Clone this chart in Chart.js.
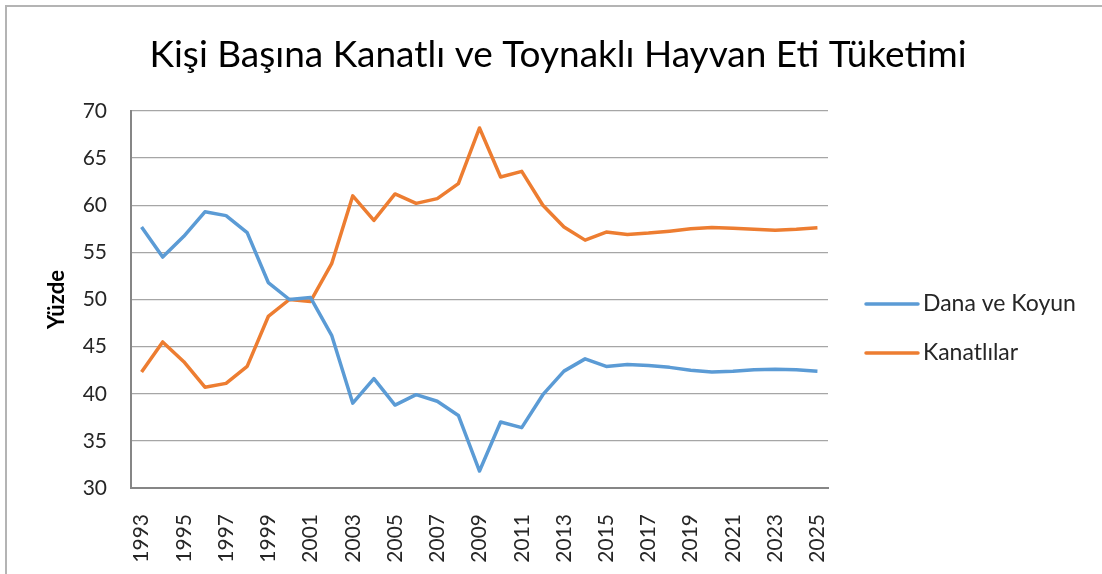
<!DOCTYPE html>
<html>
<head>
<meta charset="utf-8">
<script src="https://cdn.jsdelivr.net/npm/chart.js@4.4.1/dist/chart.umd.min.js"></script>
<style>
  html, body { margin:0; padding:0; background:#fff; }
  #wrap { position:relative; width:1102px; height:574px; overflow:hidden; }
  #frameTop { position:absolute; left:5px; top:5px; width:1100px; height:0; border-top:2px solid #b4b4b4; }
  #frameLeft { position:absolute; left:5px; top:5px; width:0; height:570px; border-left:2px solid #b4b4b4; }
  canvas { position:absolute; left:0; top:0; }
</style>
</head>
<body>
<div id="wrap">
  <canvas id="chart" width="1102" height="574"></canvas>
  <div id="frameTop"></div>
  <div id="frameLeft"></div>
</div>
<script>
// ── Data ─────────────────────────────────────────────────────────────────
const years = ['1993','1994','1995','1996','1997','1998','1999','2000','2001','2002','2003',
  '2004','2005','2006','2007','2008','2009','2010','2011','2012','2013','2014','2015','2016',
  '2017','2018','2019','2020','2021','2022','2023','2024','2025'];

const danaKoyun = [57.7, 54.5, 56.7, 59.3, 58.9, 57.1, 51.8, 50.0, 50.2, 46.2, 39.0,
  41.6, 38.8, 39.9, 39.2, 37.7, 31.8, 37.0, 36.4, 39.9, 42.4, 43.7, 42.9, 43.1,
  43.0, 42.8, 42.5, 42.3, 42.4, 42.55, 42.6, 42.55, 42.4];

const kanatlilar = [42.3, 45.5, 43.4, 40.7, 41.1, 42.9, 48.2, 50.0, 49.8, 53.8, 61.0,
  58.4, 61.2, 60.2, 60.7, 62.3, 68.2, 63.0, 63.6, 60.0, 57.7, 56.3, 57.15, 56.9,
  57.05, 57.25, 57.5, 57.65, 57.55, 57.45, 57.35, 57.45, 57.6];

const titleText = 'Kişi Başına Kanatlı ve Toynaklı Hayvan Eti Tüketimi';
const yMin = 30, yMax = 70, yStep = 5;

const FONT = 'Lato, "Open Sans", sans-serif';
const TXT = '#262626';

// ── Title + legend drawn Excel style (centred title, legend on the right) ─
const excelDecor = {
  id: 'excelDecor',
  afterDraw(chart) {
    const ctx = chart.ctx;
    ctx.save();
    ctx.fillStyle = '#000';
    ctx.font = '37px ' + FONT;
    ctx.textAlign = 'center';
    ctx.textBaseline = 'middle';
    ctx.fillText(titleText, 558, 55);

    ctx.textAlign = 'left';
    chart.data.datasets.forEach((ds, i) => {
      const y = 304 + i * 49;
      ctx.strokeStyle = ds.borderColor;
      ctx.lineWidth = 3.5;
      ctx.lineCap = 'round';
      ctx.beginPath(); ctx.moveTo(866, y); ctx.lineTo(918, y); ctx.stroke();
      ctx.fillStyle = TXT;
      ctx.font = '23px ' + FONT;
      ctx.fillText(ds.label, 923, y);
    });
    ctx.restore();
  }
};

new Chart(document.getElementById('chart'), {
  type: 'line',
  data: {
    labels: years,
    datasets: [
      { label:'Dana ve Koyun', data:danaKoyun, borderColor:'#5B9BD5', backgroundColor:'#5B9BD5',
        borderWidth:3.5, pointRadius:0, tension:0, borderJoinStyle:'round' },
      { label:'Kanatlılar', data:kanatlilar, borderColor:'#ED7D31', backgroundColor:'#ED7D31',
        borderWidth:3.5, pointRadius:0, tension:0, borderJoinStyle:'round' }
    ]
  },
  options: {
    responsive:false, animation:false,
    layout:{ padding:{ left:0, right:274, top:111, bottom:0 } },
    plugins:{
      legend:{ display:false },
      tooltip:{ enabled:false },
      title:{ display:false }
    },
    scales:{
      x:{
        offset:true,
        grid:{ display:false },
        border:{ display:true, color:'#868686', width:2 },
        ticks:{ autoSkip:false, minRotation:90, maxRotation:90, padding:18,
          color:TXT, font:{ family:FONT, size:21 },
          callback:(v, i) => i % 2 ? '' : years[i] },
        afterFit: s => { s.height = 86; }
      },
      y:{
        min:yMin, max:yMax,
        grid:{ color:'#a6a6a6', lineWidth:1.3, drawTicks:false },
        border:{ display:true, color:'#868686', width:2 },
        ticks:{ stepSize:yStep, padding:24, color:TXT, font:{ family:FONT, size:21 } },
        title:{ display:true, text:'Yüzde', color:'#000',
          font:{ family:FONT, size:22, weight:'bold', lineHeight:1.2 }, padding:{ top:44, bottom:0 } },
        afterFit: s => { s.width = 131; }
      }
    }
  },
  plugins:[excelDecor]
});
</script>
</body>
</html>
